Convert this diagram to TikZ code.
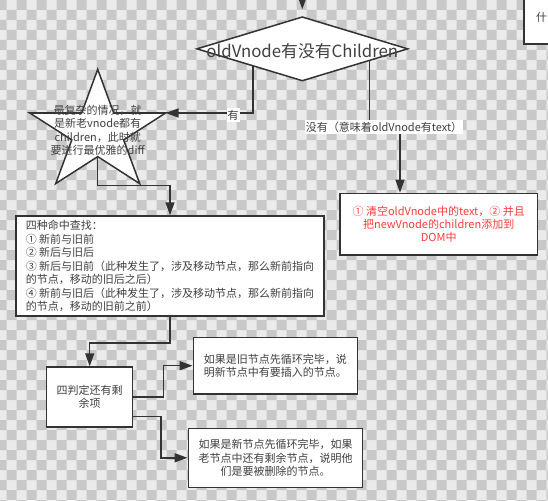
\documentclass[tikz,border=0pt]{standalone}
\usepackage{fontspec}
\setmainfont{Noto Sans CJK SC}
\usetikzlibrary{shapes.geometric,arrows.meta,calc}
\definecolor{ln}{HTML}{333333}
\definecolor{tx}{HTML}{404040}
\definecolor{rd}{HTML}{FF3B3B}
\definecolor{chl}{HTML}{EBEBEB}
\definecolor{chd}{HTML}{C8C8C8}
\begin{document}
\begin{tikzpicture}[x=1pt,y=-1pt,
  conn/.style={draw=ln, line width=1.5pt, -{Triangle[length=13pt,width=9pt]}},
  box/.style={draw=ln, line width=1.5pt, fill=white, rectangle, inner sep=0pt, text=tx, font=\fontsize{11}{13.5}\selectfont},
  lbl/.style={fill=white, text=tx, font=\fontsize{11}{13}\selectfont, inner xsep=1pt, inner ysep=2pt},
  txt/.style={text=tx, font=\fontsize{11}{13.5}\selectfont, align=center}]
\useasboundingbox (0,0) rectangle (548,500);
\clip (0,0) rectangle (548,500);
% checkerboard background
\fill[chl] (0,0) rectangle (548,500);
\fill[chd] \foreach \i in {0,2,...,56} {\foreach \j in {0,2,...,50} {
  (\i*10-3.3,\j*10) rectangle ++(10,10) (\i*10+6.7,\j*10+10) rectangle ++(10,10)}};
% top-right partial box
\node[box, minimum width=100pt, minimum height=90pt, anchor=south west] (tr) at (523.3,45) {};
\node[txt, anchor=west, inner sep=0pt] (trt) at (536,17) {什};
% diamond
\node[diamond, draw=ln, line width=1.5pt, fill=white, minimum width=211.3pt, minimum height=64.3pt, inner sep=0pt] (dia) at (302.3,48.85) {};
\node[text=tx, font=\fontsize{16.8}{18}\selectfont] (diat) at (302.3,50.7) {oldVnode有没有Children};
% star
\coordinate (s1) at (97.7,69.3);
\coordinate (i1) at (113.7,113);
\coordinate (sR) at (165.6,113);
\coordinate (i2) at (123.6,139.9);
\coordinate (s3) at (139.7,183.6);
\coordinate (sB) at (97.7,156.6);
\coordinate (s4) at (55.7,183.6);
\coordinate (i4) at (71.8,139.9);
\coordinate (sL) at (29.8,113);
\coordinate (i5) at (81.7,113);
\draw[draw=ln, line width=1.5pt, fill=white, line join=miter] (s1) -- (i1) -- (sR) -- (i2) -- (s3) -- (sB) -- (s4) -- (i4) -- (sL) -- (i5) -- cycle;
\node[txt] (start) at (97.7,130.5) {最复杂的情况，就\\是新老vnode都有\\children，此时就\\要进行最优雅的diff};
% boxes
\node[box, minimum width=197.3pt, minimum height=61.7pt, text=rd, align=center, font=\fontsize{11}{13.3}\selectfont] (red) at (438.7,224.2) {① 清空oldVnode中的text，② 并且\\把newVnode的children添加到\\DOM中};
\node[box, minimum width=308pt, minimum height=100pt, align=left] (b4) at (170,266) {四种命中查找：\\① 新前与旧前\\② 新后与旧后\\③ 新后与旧前（此种发生了，涉及移动节点，那么新前指向\\的节点，移动的旧后之后）\\④ 新前与旧后（此种发生了，涉及移动节点，那么新前指向\\的节点，移动的旧前之前）};
\node[box, minimum width=86pt, minimum height=60pt, align=center] (b5) at (89.7,397) {四判定还有剩\\余项};
\node[box, minimum width=164pt, minimum height=56.7pt, align=center] (b6) at (275.3,365.7) {如果是旧节点先循环完毕，说\\明新节点中有要插入的节点。};
\node[box, minimum width=174.4pt, minimum height=59pt, align=center] (b7) at (275.5,457.8) {如果是新节点先循环完毕，如果\\老节点中还有剩余节点，说明他\\们是要被删除的节点。};
% connectors
\coordinate (topc) at (302.3,-10);
\draw[conn] (topc) -- ([yshift=6.7pt]dia.north);
\draw[conn] ([shift={(3.8,1.14)}]dia.south west) |- (sR);
\draw[conn] ([shift={(14.1,-4.2)}]dia.south east) -- ++(0,66) -| ([xshift=-38.7pt]red.north);
\draw[conn] (sB) |- ([yshift=30pt]b4.north) -- (b4.north);
\draw[conn] (b4.south) -- ++(0,26) -| (b5.north);
\draw[conn] (b5.east) -- ++(30,0) |- (b6.west);
\draw[conn] ([yshift=-19.7pt]b5.east) -- ++(27.3,0) |- (b7.west);
% labels
\node[lbl] (lyes) at (233,115) {有};
\node[lbl] (lno) at (384,127) {没有（意味着oldVnode有text）};
\end{tikzpicture}
\end{document}
